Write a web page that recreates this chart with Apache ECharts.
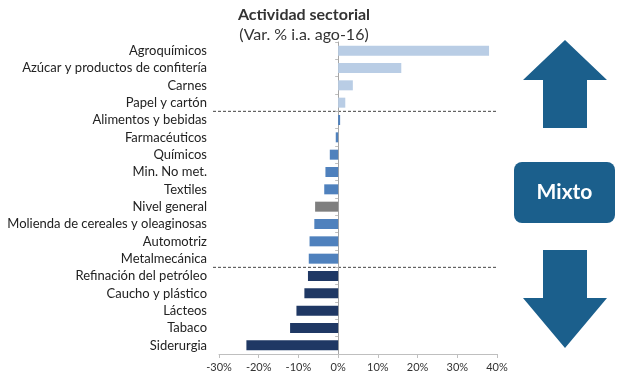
<!DOCTYPE html>
<html>
<head>
<meta charset="utf-8">
<script src="https://cdn.jsdelivr.net/npm/echarts@6/dist/echarts.min.js"></script>
<style>
  html, body { margin: 0; padding: 0; background: #fff; }
  #main { width: 620px; height: 375px; }
</style>
</head>
<body>
<div id="main"></div>
<script>
// sectores, de arriba hacia abajo
var sectores = [
  'Agroquímicos', 'Azúcar y productos de confitería', 'Carnes', 'Papel y cartón',
  'Alimentos y bebidas', 'Farmacéuticos', 'Químicos', 'Min. No met.', 'Textiles',
  'Nivel general', 'Molienda de cereales y oleaginosas', 'Automotriz', 'Metalmecánica',
  'Refinación del petróleo', 'Caucho y plástico', 'Lácteos', 'Tabaco', 'Siderurgia'
];
// var. % i.a. ago-16
var variacion = [38.0, 15.9, 3.7, 1.8, 0.5, -0.6, -2.1, -3.2, -3.5, -5.8, -6.0, -7.2, -7.4,
  -7.6, -8.5, -10.5, -12.1, -23.1];
// grupo de cada sector (sube / mixto / total / baja)
var grupo = ['sube', 'sube', 'sube', 'sube', 'mixto', 'mixto', 'mixto', 'mixto', 'mixto',
  'total', 'mixto', 'mixto', 'mixto', 'baja', 'baja', 'baja', 'baja', 'baja'];
var ticksX = [-30, -20, -10, 0, 10, 20, 30, 40];

var colorGrupo = { sube: '#b9cde5', mixto: '#4f81bd', total: '#7f7f7f', baja: '#1f3864' };
var azul = '#1b5f8c';
var fuente = 'Lato';

var chart = echarts.init(document.getElementById('main'));

var option = {
  backgroundColor: '#fff',
  animation: false,
  title: {
    text: 'Actividad sectorial',
    subtext: '(Var. % i.a. ago-16)',
    left: 299,
    textAlign: 'center',
    top: 2,
    itemGap: 4,
    textStyle: { fontFamily: fuente, fontSize: 16, fontWeight: 'bold', color: '#333' },
    subtextStyle: { fontFamily: fuente, fontSize: 16, color: '#333' }
  },
  grid: { left: 219, right: 123, top: 42, bottom: 21, containLabel: false },
  xAxis: {
    type: 'value',
    min: ticksX[0],
    max: ticksX[ticksX.length - 1],
    interval: 10,
    splitLine: { show: false },
    axisLine: { show: true, lineStyle: { color: '#bfbfbf' } },
    axisTick: { show: true, length: 4, lineStyle: { color: '#bfbfbf' } },
    axisLabel: {
      fontFamily: fuente, fontSize: 11, color: '#333', margin: 8,
      formatter: function (v) { return v + '%'; }
    }
  },
  yAxis: {
    type: 'category',
    data: sectores,
    inverse: true,
    axisLine: { show: true, onZero: true, lineStyle: { color: '#a6a6a6' } },
    axisTick: { show: true, length: 3, lineStyle: { color: '#bfbfbf' } },
    // las etiquetas van a la izquierda del gráfico, no junto al cero
    axisLabel: { show: false }
  },
  series: [{
    type: 'bar',
    barWidth: 10,
    data: variacion.map(function (v, i) {
      return { value: v, itemStyle: { color: colorGrupo[grupo[i]] } };
    })
  }]
};
chart.setOption(option);

function flecha(arriba) {
  var pts = arriba
    ? [[565, 40], [607, 80], [587, 80], [587, 128], [543, 128], [543, 80], [523, 80]]
    : [[543, 250], [587, 250], [587, 298], [607, 298], [565, 348], [523, 298], [543, 298]];
  return { type: 'polygon', shape: { points: pts }, style: { fill: azul } };
}

var elementos = [];
sectores.forEach(function (s) {
  var y = chart.convertToPixel({ yAxisIndex: 0 }, s);
  elementos.push({
    type: 'text', x: 207, y: y,
    style: { text: s, fill: '#222', font: '13px ' + fuente, align: 'right', verticalAlign: 'middle' }
  });
});
// separadores punteados entre grupos
[[3, 4], [12, 13]].forEach(function (par) {
  var y = (chart.convertToPixel({ yAxisIndex: 0 }, sectores[par[0]]) +
           chart.convertToPixel({ yAxisIndex: 0 }, sectores[par[1]])) / 2;
  elementos.push({
    type: 'line', shape: { x1: 213, y1: y, x2: 496, y2: y },
    style: { stroke: '#444', lineWidth: 1, lineDash: [3, 2] }
  });
});
elementos.push(flecha(true));
elementos.push(flecha(false));
elementos.push({
  type: 'rect', shape: { x: 514, y: 162, width: 101, height: 61, r: 8 },
  style: { fill: azul }
});
elementos.push({
  type: 'text', x: 564.5, y: 192.5,
  style: { text: 'Mixto', fill: '#fff', font: 'bold 21px ' + fuente, align: 'center', verticalAlign: 'middle' }
});

chart.setOption({ graphic: elementos });
</script>
</body>
</html>
